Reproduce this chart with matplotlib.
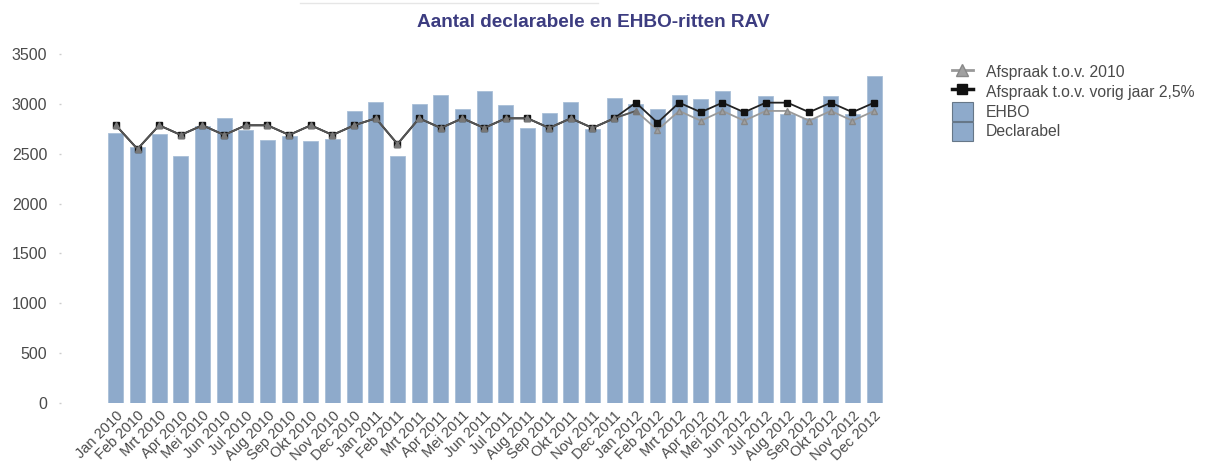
import matplotlib
matplotlib.use("Agg")
import matplotlib.pyplot as plt
from matplotlib.lines import Line2D
from matplotlib.patches import Patch

plt.rcParams["font.family"] = ["Liberation Sans", "DejaVu Sans"]

months = ["Jan", "Feb", "Mrt", "Apr", "Mei", "Jun", "Jul", "Aug", "Sep", "Okt", "Nov", "Dec"]
years = [2010, 2011, 2012]
labels = [f"{m} {y}" for y in years for m in months]

# monthly rides (bars)
rides = [
    2705, 2570, 2695, 2474, 2778, 2855, 2735, 2641, 2681, 2627, 2650, 2926,
    3019, 2474, 2994, 3086, 2952, 3126, 2992, 2761, 2912, 3019, 2748, 3060,
    2994, 2952, 3088, 3046, 3128, 2935, 3076, 2898, 2855, 3076, 2898, 3280,
]

# target relative to 2010
target_2010 = [
    2785, 2547, 2785, 2688, 2785, 2688, 2785, 2785, 2688, 2785, 2688, 2785,
    2855, 2597, 2855, 2758, 2855, 2758, 2855, 2855, 2758, 2855, 2758, 2855,
    2929, 2738, 2929, 2831, 2929, 2831, 2929, 2929, 2831, 2929, 2831, 2929,
]

# target relative to previous year, +2.5%
target_prev = [
    2785, 2547, 2785, 2688, 2785, 2688, 2785, 2785, 2688, 2785, 2688, 2785,
    2855, 2597, 2855, 2758, 2855, 2758, 2855, 2855, 2758, 2855, 2758, 2855,
    3012, 2811, 3012, 2916, 3012, 2916, 3012, 3012, 2916, 3012, 2916, 3012,
]

bar_color = "#8eaacb"
text_color = "#4a4a4a"

fig = plt.figure(figsize=(12.08, 4.70), dpi=100)
ax = fig.add_axes([105 / 1208, 67 / 470, 780 / 1208, 349 / 470])

x = list(range(len(labels)))
ax.bar(x, rides, width=0.69, color=bar_color, edgecolor="#a9bfd8", linewidth=0.6, zorder=2)

ax.plot(x, target_2010, color="#999999", lw=1.3, marker="^", ms=5,
        mfc="#a0a0a0", mec="#888888", zorder=3)
ax.plot(x, target_prev, color="#222222", lw=1.3, marker="s", ms=4.5,
        mfc="#111111", mec="#111111", zorder=4)
# 2010-2011 the two targets overlap: grey line on top there
ax.plot(x[:25], target_2010[:25], color="#555555", lw=1.3, marker="^", ms=4,
        mfc="#777777", mec="#777777", zorder=5)

ax.set_xlim(-0.5, len(labels) - 0.5)
ax.set_ylim(0, 3500)
ax.set_yticks(range(0, 3501, 500))
ax.set_xticks(x)
ax.set_xticklabels(labels, rotation=45, ha="right", rotation_mode="anchor",
                   fontsize=10.5, color=text_color)

for side in ["top", "right", "bottom", "left"]:
    ax.spines[side].set_visible(False)
ax.spines["left"].set_position(("outward", 32))
ax.tick_params(axis="y", length=1.5, width=1, color="#cccccc", pad=8,
               labelsize=11.5, labelcolor=text_color)
ax.tick_params(axis="x", length=0, pad=4)

fig.text(593 / 1208, 0.952, "Aantal declarabele en EHBO-ritten RAV", ha="center", va="center",
         fontsize=13.7, fontweight="bold", color="#3c3c80")
fig.add_artist(Line2D([300 / 1208, 598 / 1208], [0.993, 0.993], color="#e6e6e6", lw=1))

handles = [
    Line2D([], [], color="#999999", lw=2, marker="^", ms=9, mfc="#a0a0a0", mec="#888888"),
    Line2D([], [], color="#111111", lw=2.5, marker="s", ms=7, mfc="#111111", mec="#111111"),
    Patch(facecolor=bar_color, edgecolor="#667788", linewidth=0.8),
    Patch(facecolor=bar_color, edgecolor="#667788", linewidth=0.8),
]
names = ["Afspraak t.o.v. 2010", "Afspraak t.o.v. vorig jaar 2,5%", "EHBO", "Declarabel"]
fig.legend(handles, names, loc="upper left", bbox_to_anchor=(946 / 1208, 1 - 56 / 470),
           frameon=False, fontsize=11.3, handlelength=1.3, handleheight=1.5,
           handletextpad=0.85, labelspacing=0.04, borderaxespad=0, labelcolor=text_color)

fig.savefig("out.png", dpi=100)
